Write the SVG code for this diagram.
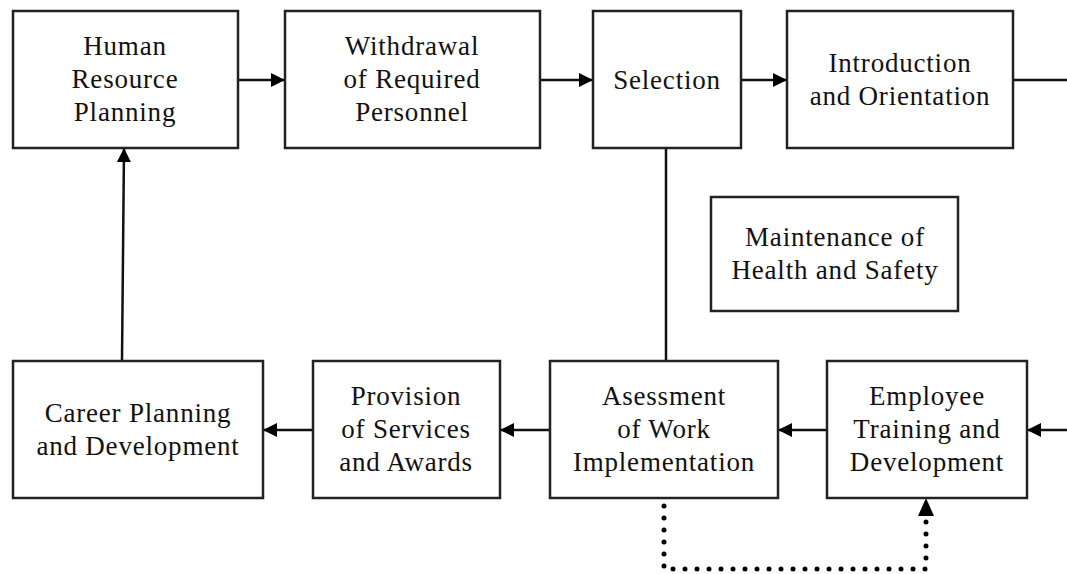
<svg xmlns="http://www.w3.org/2000/svg" width="1067" height="574" viewBox="0 0 1067 574">
<defs>
<marker id="ah" viewBox="0 0 10 10" refX="10" refY="5" markerWidth="16" markerHeight="14" markerUnits="userSpaceOnUse" orient="auto">
<path d="M0,0 L10,5 L0,10 z" fill="#000"/>
</marker>
<style>
.box{fill:#fff;stroke:#222;stroke-width:2.5}
.t{font-family:"Liberation Serif",serif;font-size:27px;letter-spacing:0.8px;fill:#111;text-anchor:middle}
.c{fill:none;stroke:#111;stroke-width:2.5}
.d{fill:none;stroke:#000;stroke-width:5;stroke-linecap:round;stroke-dasharray:0 12}
</style>
</defs>
<rect width="1067" height="574" fill="#fff"/>
<g id="connectors">
<line class="c" x1="238" y1="80" x2="285" y2="80" marker-end="url(#ah)"/>
<line class="c" x1="540" y1="80" x2="593" y2="80" marker-end="url(#ah)"/>
<line class="c" x1="741" y1="80" x2="787" y2="80" marker-end="url(#ah)"/>
<line class="c" x1="1013" y1="80" x2="1067" y2="80"/>
<line class="c" x1="666" y1="148" x2="666" y2="361"/>
<line class="c" x1="1067" y1="430" x2="1027" y2="430" marker-end="url(#ah)"/>
<line class="c" x1="827" y1="430" x2="778" y2="430" marker-end="url(#ah)"/>
<line class="c" x1="550" y1="430" x2="500" y2="430" marker-end="url(#ah)"/>
<line class="c" x1="313" y1="430" x2="263" y2="430" marker-end="url(#ah)"/>
<line class="c" x1="122" y1="361" x2="124" y2="148" marker-end="url(#ah)"/>
<path class="d" d="M664,506 L664,569 L926,569 L926,518"/>
<path d="M918,516 L926,498 L934,516 z" fill="#000"/>
</g>
<g id="hrp"><rect class="box" x="13" y="11" width="225" height="137"/>
<text class="t" x="125" y="55">Human</text><text class="t" x="125" y="88">Resource</text><text class="t" x="125" y="121">Planning</text></g>
<g id="withdrawal"><rect class="box" x="285" y="11" width="255" height="137"/>
<text class="t" x="412" y="55">Withdrawal</text><text class="t" x="412" y="88">of Required</text><text class="t" x="412" y="121">Personnel</text></g>
<g id="selection"><rect class="box" x="593" y="11" width="148" height="137"/>
<text class="t" x="667" y="89">Selection</text></g>
<g id="introduction"><rect class="box" x="787" y="11" width="226" height="137"/>
<text class="t" x="900" y="72">Introduction</text><text class="t" x="900" y="105">and Orientation</text></g>
<g id="maintenance"><rect class="box" x="711" y="197" width="247" height="114"/>
<text class="t" x="835" y="246">Maintenance of</text><text class="t" x="835" y="279">Health and Safety</text></g>
<g id="career"><rect class="box" x="13" y="361" width="250" height="137"/>
<text class="t" x="138" y="422">Career Planning</text><text class="t" x="138" y="455">and Development</text></g>
<g id="provision"><rect class="box" x="313" y="361" width="187" height="137"/>
<text class="t" x="406" y="405">Provision</text><text class="t" x="406" y="438">of Services</text><text class="t" x="406" y="471">and Awards</text></g>
<g id="assessment"><rect class="box" x="550" y="361" width="228" height="137"/>
<text class="t" x="664" y="405">Asessment</text><text class="t" x="664" y="438">of Work</text><text class="t" x="664" y="471">Implementation</text></g>
<g id="training"><rect class="box" x="827" y="361" width="200" height="137"/>
<text class="t" x="927" y="405">Employee</text><text class="t" x="927" y="438">Training and</text><text class="t" x="927" y="471">Development</text></g>
</svg>
